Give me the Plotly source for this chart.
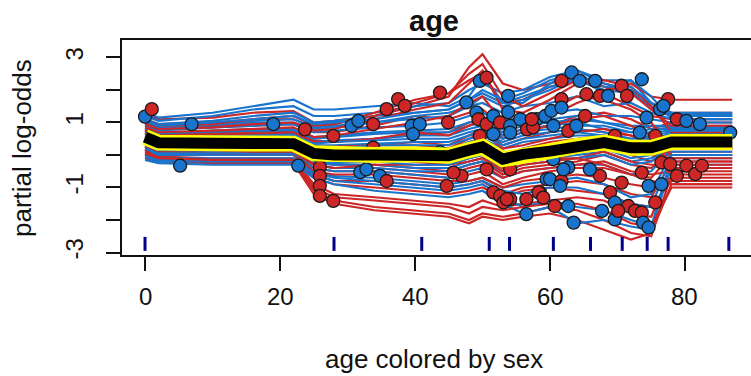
import plotly.graph_objects as go

# ---------------- data ----------------
grid_age = [0, 2, 10, 16, 22, 25, 28, 34, 40, 45, 48, 50, 53, 56, 60, 64, 68, 72, 75, 78, 87]

pd_logodds = [0.55, 0.38, 0.36, 0.36, 0.35, 0.05, 0.0, 0.0, 0.02, -0.02, 0.15, 0.25,
              -0.13, 0.02, 0.12, 0.28, 0.38, 0.22, 0.22, 0.40, 0.40]

ice_female = [  # red curves
    [1.25, 1.1, 1.15, 1.3, 1.35, 1.0, 1.05, 1.2, 1.5, 1.8, 2.7, 3.1, 2.2, 2.0, 2.2, 2.4, 2.2, 2.0, 1.6, 1.3, 1.3],
    [1.1, 0.95, 1.0, 1.1, 1.1, 0.85, 0.95, 1.3, 1.7, 1.9, 2.3, 2.5, 1.6, 1.7, 2.1, 2.3, 2.0, 2.2, 1.8, 1.7, 1.7],
    [0.9, 0.8, 0.85, 0.9, 0.95, 0.7, 0.7, 0.9, 1.2, 1.1, 1.3, 1.4, 0.9, 1.0, 1.2, 1.6, 1.9, 1.5, 1.2, 1.1, 1.1],
    [0.8, 0.65, 0.7, 0.7, 0.75, 0.45, 0.4, 0.5, 0.6, 0.7, 1.0, 1.1, 0.6, 0.8, 0.9, 1.2, 1.3, 1.1, 0.8, 1.0, 1.0],
    [0.7, 0.55, 0.6, 0.6, 0.6, 0.3, 0.25, 0.3, 0.4, 0.3, 0.6, 0.8, 0.3, 0.5, 0.7, 0.8, 0.7, 0.6, 0.5, 0.6, 0.6],
    [0.6, 0.45, 0.5, 0.5, 0.5, 0.2, 0.15, 0.2, 0.2, 0.1, 0.4, 0.5, 0.0, 0.2, 0.4, 0.5, 0.6, 0.3, 0.1, 0.3, 0.3],
    [0.5, 0.35, 0.35, 0.35, 0.35, 0.05, 0.0, 0.0, -0.1, -0.2, 0.1, 0.2, -0.3, -0.1, 0.0, 0.2, 0.3, 0.0, -0.2, 0.2, 0.2],
    [0.4, 0.25, 0.25, 0.2, 0.2, -0.2, -0.3, -0.3, -0.4, -0.5, -0.3, -0.2, -0.6, -0.4, -0.3, -0.2, 0.0, -0.3, -0.4, 0.1, 0.1],
    [0.3, 0.15, 0.1, 0.1, 0.1, -0.4, -0.5, -0.5, -0.6, -0.7, -0.6, -0.5, -0.9, -0.7, -0.5, -0.4, -0.4, -0.6, -0.7, 0.0, 0.0],
    [0.2, 0.05, 0.0, 0.0, 0.0, -0.6, -0.8, -0.8, -0.9, -1.0, -0.9, -0.8, -1.2, -1.0, -0.9, -0.8, -0.9, -1.2, -1.3, -0.2, -0.2],
    [0.1, -0.05, -0.1, -0.1, -0.1, -0.9, -1.2, -1.3, -1.4, -1.5, -1.6, -1.4, -1.6, -1.5, -1.4, -1.3, -1.4, -1.8, -1.9, -0.4, -0.4],
    [0.0, -0.15, -0.2, -0.2, -0.2, -1.1, -1.4, -1.6, -1.7, -1.8, -2.0, -1.8, -1.9, -1.8, -1.6, -1.7, -2.0, -2.4, -2.5, -0.6, -0.6],
    [-0.1, -0.2, -0.25, -0.25, -0.25, -1.2, -1.5, -1.7, -1.8, -1.9, -2.1, -1.9, -2.0, -1.9, -1.8, -2.0, -2.3, -2.6, -2.4, -0.9, -0.9],
    [0.15, -0.1, -0.15, -0.15, -0.15, -0.7, -0.9, -1.0, -1.1, -1.2, -1.1, -1.0, -1.3, -1.1, -1.0, -1.1, -1.2, -1.5, -1.6, -0.8, -0.8],
    [0.25, 0.1, 0.05, 0.05, 0.05, -0.5, -0.6, -0.6, -0.7, -0.8, -0.8, -0.7, -1.0, -0.8, -0.7, -0.6, -0.7, -0.9, -1.0, -0.7, -0.7],
    [0.35, 0.2, 0.2, 0.15, 0.15, -0.3, -0.4, -0.4, -0.5, -0.6, -0.4, -0.3, -0.7, -0.5, -0.4, -0.3, -0.2, -0.5, -0.6, -0.5, -0.5],
    [0.45, 0.3, 0.3, 0.3, 0.3, -0.1, -0.15, -0.1, -0.2, -0.3, -0.1, 0.0, -0.4, -0.2, -0.1, -0.1, 0.1, -0.2, -0.3, -0.3, -0.3],
    [0.55, 0.4, 0.45, 0.45, 0.45, 0.1, 0.1, 0.1, 0.1, 0.0, 0.3, 0.4, -0.1, 0.1, 0.2, 0.4, 0.5, 0.2, 0.0, -0.1, -0.1],
    [0.65, 0.5, 0.55, 0.55, 0.55, 0.25, 0.25, 0.3, 0.3, 0.2, 0.5, 0.7, 0.2, 0.3, 0.5, 0.7, 0.8, 0.6, 0.3, -0.2, -0.2],
    [0.75, 0.6, 0.65, 0.65, 0.7, 0.4, 0.4, 0.5, 0.7, 0.6, 0.9, 1.1, 0.5, 0.7, 0.9, 1.1, 1.2, 0.9, 0.6, 0.0, 0.0],
    [0.85, 0.7, 0.75, 0.8, 0.85, 0.55, 0.6, 0.8, 1.0, 1.2, 1.6, 1.8, 1.0, 1.1, 1.4, 1.8, 1.7, 1.4, 1.0, 0.2, 0.2],
    [0.95, 0.8, 0.85, 0.95, 1.0, 0.75, 0.8, 1.1, 1.4, 1.6, 2.2, 2.6, 1.4, 1.3, 1.7, 2.2, 2.3, 2.1, 1.5, 0.7, 0.7],
    [1.05, 0.9, 0.95, 1.1, 1.2, 0.9, 0.95, 1.2, 1.6, 1.9, 2.5, 2.8, 1.8, 1.5, 1.9, 2.3, 2.1, 1.9, 1.4, 0.9, 0.9],
    [0.05, -0.1, -0.15, -0.15, -0.15, -1.0, -1.3, -1.4, -1.5, -1.6, -1.8, -1.6, -1.7, -1.6, -1.5, -1.5, -1.7, -2.1, -2.2, -1.0, -1.0],
    [0.3, 0.15, 0.15, 0.1, 0.1, -0.3, -0.4, -0.3, -0.3, -0.3, -0.2, -0.1, -0.5, -0.3, -0.2, -0.1, -0.3, -0.6, -0.8, -0.9, -0.9],
]

ice_male = [  # blue curves
    [1.2, 1.05, 1.2, 1.4, 1.5, 1.2, 1.2, 1.3, 1.5, 1.6, 2.0, 2.2, 1.9, 2.0, 2.4, 2.6, 2.3, 2.3, 1.6, 1.3, 1.3],
    [1.1, 0.95, 1.05, 1.2, 1.3, 1.0, 1.05, 1.2, 1.3, 1.4, 1.7, 1.9, 1.6, 1.8, 2.1, 2.3, 2.0, 1.9, 1.5, 1.2, 1.2],
    [1.0, 0.85, 0.95, 1.05, 1.1, 0.85, 0.9, 1.0, 1.1, 1.2, 1.5, 1.6, 1.3, 1.5, 1.6, 1.8, 1.5, 1.6, 1.3, 1.1, 1.1],
    [0.9, 0.75, 0.85, 0.9, 0.95, 0.7, 0.75, 0.85, 0.9, 1.0, 1.2, 1.3, 1.0, 1.2, 1.3, 1.4, 1.2, 1.2, 1.1, 1.0, 1.0],
    [0.8, 0.65, 0.75, 0.8, 0.8, 0.55, 0.6, 0.7, 0.75, 0.8, 1.0, 1.1, 0.8, 1.0, 1.1, 1.2, 1.0, 0.9, 0.9, 0.9, 0.9],
    [0.7, 0.55, 0.6, 0.65, 0.65, 0.4, 0.45, 0.5, 0.6, 0.6, 0.8, 0.9, 0.6, 0.8, 0.9, 1.0, 0.8, 0.7, 0.8, 0.8, 0.8],
    [0.6, 0.45, 0.5, 0.55, 0.55, 0.3, 0.3, 0.35, 0.4, 0.4, 0.6, 0.7, 0.4, 0.6, 0.7, 0.8, 0.7, 0.5, 0.6, 0.7, 0.7],
    [0.5, 0.35, 0.4, 0.4, 0.4, 0.15, 0.15, 0.2, 0.2, 0.2, 0.4, 0.5, 0.2, 0.4, 0.5, 0.6, 0.6, 0.4, 0.5, 0.6, 0.6],
    [0.45, 0.3, 0.3, 0.3, 0.3, 0.0, 0.0, 0.05, 0.0, 0.0, 0.2, 0.3, 0.0, 0.2, 0.3, 0.4, 0.5, 0.3, 0.4, 0.5, 0.5],
    [0.35, 0.2, 0.2, 0.2, 0.2, -0.1, -0.15, -0.1, -0.2, -0.2, 0.0, 0.1, -0.2, 0.0, 0.1, 0.2, 0.3, 0.1, 0.2, 0.4, 0.4],
    [0.25, 0.1, 0.1, 0.1, 0.1, -0.25, -0.3, -0.3, -0.4, -0.4, -0.2, -0.1, -0.4, -0.2, -0.1, 0.0, 0.1, -0.2, -0.1, 0.3, 0.3],
    [0.15, 0.0, 0.0, 0.0, 0.0, -0.4, -0.5, -0.5, -0.6, -0.7, -0.5, -0.4, -0.7, -0.5, -0.4, -0.3, -0.3, -0.6, -0.5, 0.2, 0.2],
    [0.05, -0.1, -0.1, -0.1, -0.1, -0.5, -0.65, -0.7, -0.8, -0.9, -0.8, -0.7, -1.0, -0.9, -0.8, -0.7, -0.9, -1.3, -1.2, 0.1, 0.1],
    [-0.05, -0.2, -0.2, -0.2, -0.2, -0.6, -0.8, -0.9, -1.0, -1.1, -1.0, -0.9, -1.3, -1.6, -1.4, -1.6, -1.7, -2.0, -2.2, -0.1, -0.1],
    [-0.15, -0.25, -0.3, -0.3, -0.3, -0.7, -0.9, -1.1, -1.2, -1.3, -1.2, -1.1, -1.5, -1.8, -1.6, -2.1, -2.0, -2.2, -2.3, -0.3, -0.3],
    [1.3, 1.15, 1.3, 1.5, 1.7, 1.4, 1.4, 1.5, 1.6, 1.5, 1.8, 2.4, 1.6, 1.6, 2.2, 2.6, 2.2, 2.0, 1.4, 1.2, 1.2],
    [0.95, 0.8, 0.9, 1.0, 1.0, 0.8, 0.85, 1.0, 1.2, 1.3, 1.5, 1.8, 1.5, 1.7, 2.0, 2.4, 1.9, 2.3, 1.8, 1.1, 1.1],
    [0.75, 0.6, 0.7, 0.75, 0.75, 0.5, 0.55, 0.65, 0.7, 0.7, 0.9, 1.0, 0.7, 0.9, 1.0, 1.1, 1.0, 0.8, 0.9, 0.85, 0.85],
    [0.55, 0.4, 0.45, 0.5, 0.5, 0.2, 0.2, 0.3, 0.3, 0.3, 0.5, 0.6, 0.3, 0.5, 0.6, 0.7, 0.6, 0.5, 0.5, 0.65, 0.65],
    [0.4, 0.25, 0.25, 0.25, 0.25, -0.05, -0.05, 0.0, -0.1, -0.1, 0.1, 0.2, -0.1, 0.1, 0.2, 0.3, 0.4, 0.2, 0.3, 0.45, 0.45],
    [0.2, 0.05, 0.05, 0.05, 0.05, -0.3, -0.4, -0.4, -0.5, -0.5, -0.3, -0.2, -0.5, -0.3, -0.2, -0.1, 0.0, -0.3, -0.2, 0.35, 0.35],
    [0.0, -0.15, -0.15, -0.15, -0.15, -0.55, -0.7, -0.8, -0.9, -1.0, -0.9, -0.8, -1.1, -1.2, -1.0, -1.0, -1.2, -1.5, -1.6, 0.0, 0.0],
    [0.65, 0.5, 0.55, 0.6, 0.6, 0.35, 0.4, 0.45, 0.5, 0.5, 0.7, 0.8, 0.5, 0.7, 0.8, 0.9, 0.9, 0.7, 0.7, 0.75, 0.75],
    [1.05, 0.9, 1.0, 1.1, 1.2, 0.95, 1.0, 1.1, 1.3, 1.4, 1.7, 2.0, 1.7, 1.9, 2.3, 2.5, 2.1, 2.1, 1.6, 1.25, 1.25],
    [0.3, 0.15, 0.15, 0.15, 0.15, -0.2, -0.25, -0.2, -0.3, -0.3, -0.1, 0.0, -0.3, -0.1, 0.0, 0.1, 0.2, -0.1, 0.0, 0.5, 0.5],
]

# observed points: (age, prediction, sex)
obs_age = [0.0, 1.0, 6.9, 5.2, 19.0, 22.7, 23.7, 25.9, 25.9, 25.9, 25.9, 27.9, 27.9,
           30.6, 31.6, 33.8, 33.8, 35.8, 37.5, 38.5, 39.5, 40.7, 39.7, 31.9, 32.8, 34.8, 35.8,
           43.7, 44.9, 43.7, 47.6, 44.7, 46.9, 45.7, 49.6, 50.6, 53.8,
           49.1, 49.4, 50.6, 51.6, 52.6, 54.1, 49.6, 54.1, 55.6, 56.6, 58.0, 57.5,
           51.6, 52.6, 54.1, 53.1, 56.5, 56.5, 58.5, 59.5, 50.6, 54.1, 60.5, 51.6,
           61.7, 63.2, 64.4, 66.7, 61.7, 65.4, 67.4, 68.6, 70.6, 71.4, 73.6,
           53.8, 57.3, 59.3, 60.5, 62.7, 63.9, 65.2, 60.2, 61.7, 69.6, 73.3, 74.3, 75.6,
           76.3, 77.5, 78.8, 80.2, 82.2, 86.7, 76.8,
           53.6, 58.3, 60.0, 61.7, 62.7, 60.7, 62.7, 63.5, 67.7, 69.6, 68.9, 70.6, 71.6,
           72.6, 73.6, 73.8, 74.6, 75.6, 73.6, 74.6, 76.5, 76.5, 77.8, 78.8, 80.2, 81.5,
           82.5, 62.0, 59.0, 61.5, 69.6, 70.1, 67.4, 65.9]
obs_pred = [1.18, 1.41, 0.95, -0.33, 0.95, -0.33, 0.79, -0.37, -0.64, -0.95, -1.26, -1.41, 0.59,
            0.90, 1.05, 0.95, 0.23, 1.41, 1.72, 1.51, 0.90, 0.95, 0.64, -0.53, -0.44, -0.64, -0.80,
            1.92, 1.00, 0.09, 1.62, -0.95, -0.64, -0.54, 2.28, 2.38, 1.82,
            1.31, 1.10, 0.95, 1.20, 1.00, 0.90, 0.59, 0.69, 1.10, 0.79, 1.10, 0.85,
            -1.15, -1.26, -1.36, -1.46, -1.82, -1.36, -1.15, -0.74, -0.44, -0.44, -0.13, 0.64,
            2.28, 2.54, 2.28, 2.28, 1.72, 1.87, 1.82, 1.82, 2.13, 1.82, 2.33,
            1.32, 1.10, 1.20, 0.90, 0.74, 0.90, 1.20, 1.36, 1.46, 0.59, 0.69, 1.15, 0.59,
            1.41, 1.72, 1.10, 1.05, 0.95, 0.69, 1.51,
            -1.36, -1.15, -0.74, -0.80, -0.38, -1.57, -1.57, -2.08, -1.72, -1.98, -1.15, -0.85, -1.57,
            -1.72, -1.77, -2.08, -2.23, -1.46, -0.54, -0.95, -0.90, -0.23, -0.28, -0.64, -0.33, -0.59,
            -0.33, -0.44, -1.31, -0.95, -1.46, -1.72, -0.64, -0.44]
obs_sex = ["M", "F", "M", "M", "M", "M", "F", "F", "F", "F", "F", "F", "F",
           "M", "M", "F", "F", "F", "F", "F", "M", "M", "M", "M", "M", "M", "F",
           "F", "F", "M", "M", "F", "F", "F", "M", "F", "M",
           "M", "F", "F", "M", "F", "M", "F", "M", "M", "F", "M", "F",
           "F", "F", "F", "F", "M", "F", "F", "M", "F", "F", "M", "M",
           "F", "M", "M", "M", "F", "F", "F", "M", "F", "F", "M",
           "M", "F", "M", "M", "F", "M", "F", "M", "M", "F", "M", "M", "F",
           "M", "F", "F", "M", "M", "M", "M",
           "F", "F", "M", "F", "M", "F", "M", "M", "M", "M", "F", "F", "F",
           "F", "F", "M", "M", "F", "F", "M", "M", "F", "F", "F", "F", "F",
           "F", "M", "F", "M", "M", "F", "F", "M"]

# deciles of age (rug)
rug_age = [0, 28, 41, 51, 54, 60.5, 66, 70.7, 74.4, 77.5, 86.5]

x_ticks = [0, 20, 40, 60, 80]
y_ticks = [-3, -2, -1, 0, 1, 2, 3]
y_tick_text = ["-3", "", "-1", "", "1", "", "3"]

# ---------------- styles ----------------
RED = "#CD2626"
BLUE = "#1874CD"
NAVY = "#00008B"
FONT = "Liberation Sans, Arial, sans-serif"
RUG_LO, RUG_HI = -2.95, -2.52

fig = go.Figure()

for fem, mal in zip(ice_female, ice_male):
    fig.add_trace(go.Scatter(x=grid_age, y=fem, mode="lines",
                             line=dict(color=RED, width=2.2), hoverinfo="skip", showlegend=False))
    fig.add_trace(go.Scatter(x=grid_age, y=mal, mode="lines",
                             line=dict(color=BLUE, width=2.2), hoverinfo="skip", showlegend=False))

fig.add_trace(go.Scatter(
    x=obs_age, y=obs_pred, mode="markers",
    marker=dict(size=13, color=[RED if s == "F" else BLUE for s in obs_sex],
                line=dict(color="#1a1a1a", width=1.3)),
    showlegend=False))

fig.add_trace(go.Scatter(x=grid_age, y=pd_logodds, mode="lines",
                         line=dict(color="#FFFF00", width=16), showlegend=False))
fig.add_trace(go.Scatter(x=grid_age, y=pd_logodds, mode="lines",
                         line=dict(color="black", width=11), showlegend=False))

rx, ry = [], []
for a in rug_age:
    rx += [a, a, None]
    ry += [RUG_LO, RUG_HI, None]
fig.add_trace(go.Scatter(x=rx, y=ry, mode="lines", line=dict(color=NAVY, width=3),
                         showlegend=False))

W, H = 751, 376
L, R_, T, B = 122, 0, 40, 121
pw, ph = W - L - R_, H - T - B

def px_x(px):
    return (px - L) / pw

def px_y(py):
    return 1 - (py - T) / ph

annotations = [
    dict(text="<b>age</b>", x=px_x(434), y=px_y(21), xref="paper", yref="paper",
         xanchor="center", yanchor="middle", showarrow=False,
         font=dict(size=29, family=FONT, color="#111")),
    dict(text="age colored by sex", x=px_x(434), y=px_y(359), xref="paper", yref="paper",
         xanchor="center", yanchor="middle", showarrow=False,
         font=dict(size=26, family=FONT, color="#111")),
    dict(text="partial log-odds", x=px_x(22), y=px_y(148), xref="paper", yref="paper",
         xanchor="center", yanchor="middle", textangle=-90, showarrow=False,
         font=dict(size=26, family=FONT, color="#111")),
]
for t in x_ticks:
    annotations.append(dict(text=str(t), x=t, y=px_y(296), xref="x", yref="paper",
                            xanchor="center", yanchor="middle", showarrow=False,
                            font=dict(size=24, family=FONT, color="#111")))

fig.update_layout(
    width=W, height=H,
    margin=dict(l=L, r=R_, t=T, b=B),
    paper_bgcolor="white", plot_bgcolor="white",
    font=dict(family=FONT, color="#111111"),
    xaxis=dict(range=[-3.41, 89.78], tickvals=x_ticks, ticks="outside", ticklen=14,
               tickwidth=1.8, tickcolor="#111", showline=True, mirror=True,
               linecolor="#111", linewidth=1.8, showgrid=False, zeroline=False,
               showticklabels=False),
    yaxis=dict(range=[-3.077, 3.538], tickvals=y_ticks, ticktext=y_tick_text,
               ticks="outside", ticklen=14, tickwidth=1.8, tickcolor="#111",
               showline=True, linecolor="#111", linewidth=1.8, showgrid=False,
               zeroline=False, tickangle=-90, tickfont=dict(size=24, family=FONT),
               ticklabelstandoff=14),
    annotations=annotations,
)

fig.write_html("out.html")
